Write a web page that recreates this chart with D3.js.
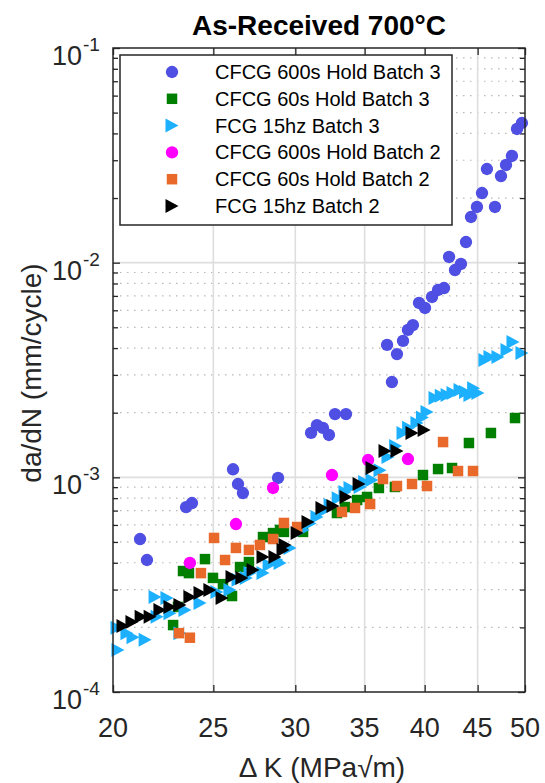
<!DOCTYPE html>
<html>
<head>
<meta charset="utf-8">
<script src="https://cdn.jsdelivr.net/npm/d3@7"></script>
<style>
  html, body { margin: 0; padding: 0; background: #fff; }
  svg { display: block; font-family: "Liberation Sans", Arial, sans-serif; }
</style>
</head>
<body>
<svg id="chart" width="545" height="783"></svg>
<script>
// ---------------- data ----------------
const title = "As-Received 700°C";
const xTickValues = [20, 25, 30, 35, 40, 45, 50];
const yDecades = [1e-4, 1e-3, 1e-2, 1e-1];
const yDecadeExponents = ["-4", "-3", "-2", "-1"];
const seriesNames = [
  "CFCG 600s Hold Batch 3",
  "CFCG 60s Hold Batch 3",
  "FCG 15hz Batch 3",
  "CFCG 600s Hold Batch 2",
  "CFCG 60s Hold Batch 2",
  "FCG 15hz Batch 2"
];

// CFCG 600s Hold Batch 3
const cfcg600b3K = [21.24, 21.57, 23.53, 23.84, 26.12, 26.41, 26.70, 28.87, 31.07, 31.48, 31.90, 32.33, 32.77, 33.58,
  37.19, 36.79, 37.61, 38.12, 38.54, 38.97, 39.50, 40.03, 40.66, 41.21, 41.76, 42.23, 42.79, 43.36, 43.85, 44.34,
  44.93, 45.44, 45.94, 46.77, 47.40, 47.93, 48.57, 49.12, 49.66];
const cfcg600b3R = [0.000516, 0.000412, 0.000727, 0.000759, 0.00109, 0.000931, 0.000845, 0.000993, 0.00161, 0.00175, 0.00170, 0.001575, 0.00197, 0.00197,
  0.00278, 0.00414, 0.00375, 0.00432, 0.00486, 0.00512, 0.00649, 0.00615, 0.00692, 0.00746, 0.00762, 0.01063, 0.00924, 0.00986, 0.01248, 0.01632,
  0.01817, 0.02111, 0.02731, 0.01817, 0.02533, 0.02851, 0.03141, 0.04196, 0.04473];

// CFCG 60s Hold Batch 3
const cfcg60b3K = [22.86, 23.11, 23.37, 23.68, 24.54, 24.98, 25.54, 26.06, 26.53, 27.06, 27.92, 28.55, 29.25, 29.00, 30.52,
  32.91, 33.50, 34.42, 35.19, 36.13, 37.44, 39.85, 41.21, 42.51, 44.14, 46.35, 48.90];
const cfcg60b3R = [0.000205, 0.000249, 0.000366, 0.000358, 0.000416, 0.00034, 0.000318, 0.00028, 0.000382, 0.000403, 0.000527, 0.00055, 0.000557, 0.000569, 0.000557,
  0.000682, 0.000727, 0.000784, 0.00081, 0.000892, 0.000902, 0.001025, 0.001093, 0.001105, 0.001445, 0.001609, 0.001889];

// FCG 15hz Batch 3
const fcg15b3K = [20.18, 20.22, 20.63, 20.91, 21.48, 21.96, 22.06, 22.55, 22.70, 23.21, 23.47, 24.27, 25.20, 25.94, 26.41,
  26.90, 27.12, 27.92, 28.30, 28.80, 29.45, 29.00, 29.65, 30.52, 31.00, 31.48, 32.00, 32.41, 33.00, 33.50, 33.88, 34.65,
  35.00, 35.58, 36.22, 36.87, 37.50, 38.12, 38.60, 39.32, 39.80, 40.21, 40.93, 41.50, 42.04, 42.60, 43.27, 43.80, 44.24,
  44.60, 45.03, 45.74, 46.25, 47.08, 48.04, 48.68, 49.66];
const fcg15b3R = [0.000199, 0.000157, 0.000188, 0.00018, 0.000175, 0.000277, 0.000224, 0.000274, 0.000233, 0.000188, 0.000241, 0.00026, 0.000292, 0.000299, 0.000333,
  0.00034, 0.000358, 0.000358, 0.00039, 0.000412, 0.000474, 0.000399, 0.000469, 0.000569, 0.00061, 0.000653, 0.0007, 0.000743, 0.0008, 0.000855, 0.000892, 0.000902,
  0.00095, 0.000972, 0.00108, 0.001244, 0.0014, 0.001609, 0.0017, 0.001789, 0.0019, 0.002015, 0.002342, 0.0024, 0.002418, 0.002471, 0.002551, 0.0025, 0.002418,
  0.0026, 0.002471, 0.00352, 0.003634, 0.003634, 0.003918, 0.004271, 0.003794];

// CFCG 600s Hold Batch 2
const cfcg600b2K = [23.73, 26.29, 28.55, 32.55, 35.27, 38.54];
const cfcg600b2R = [0.000399, 0.000606, 0.000892, 0.001025, 0.001204, 0.001217];

// CFCG 60s Hold Batch 2
const cfcg60b2K = [23.16, 23.73, 24.32, 25.04, 25.66, 26.29, 27.06, 27.73, 28.55, 29.25, 30.12, 33.28, 34.26, 35.43,
  36.46, 37.61, 38.89, 40.21, 41.67, 43.08, 44.54];
const cfcg60b2R = [0.000188, 0.000179, 0.000358, 0.000522, 0.000412, 0.000469, 0.000459, 0.000484, 0.000516, 0.000613, 0.000587, 0.00069, 0.00072, 0.000751,
  0.000982, 0.000911, 0.000931, 0.000911, 0.00146, 0.00107, 0.00107];

// FCG 15hz Batch 2
const fcg15b2K = [20.45, 20.86, 21.29, 21.72, 22.20, 22.70, 23.21, 23.73, 24.27, 24.81, 25.49, 26.06, 26.64, 27.31, 27.92,
  28.67, 29.19, 29.32, 30.12, 30.86, 31.83, 32.62, 33.58, 34.57, 35.58, 36.62, 37.61, 38.89, 39.95];
const fcg15b2R = [0.000203, 0.000212, 0.000224, 0.000224, 0.000241, 0.000249, 0.000254, 0.000277, 0.000289, 0.000299, 0.000274, 0.000343, 0.00034, 0.00037, 0.000425,
  0.000425, 0.000459, 0.000484, 0.00055, 0.000619, 0.00072, 0.000735, 0.00081, 0.000931, 0.001105, 0.001326, 0.001326, 0.001609, 0.001662];

// ---------------- layout ----------------
const L = 113, R = 525, T = 48, B = 692;
const svg = d3.select("#chart");
const x = d3.scaleLog().domain([20, 50]).range([L, R]);
const y = d3.scaleLog().domain([1e-4, 1e-1]).range([B, T]);

const gridColor = "#dedede";
const axisColor = "#262626";

// minor values
const yMinor = [];
for (let e = -4; e < -1; e++) for (let m = 2; m <= 9; m++) yMinor.push(m * Math.pow(10, e));

// grid
const grid = svg.append("g");
grid.selectAll(".ymin").data(yMinor).join("line")
  .attr("x1", L).attr("x2", R).attr("y1", d => y(d)).attr("y2", d => y(d))
  .attr("stroke", "#b8b8b8").attr("stroke-width", 1.2).attr("stroke-dasharray", "1.5,5.5");
grid.selectAll(".ymaj").data(yDecades.slice(1, 3)).join("line")
  .attr("x1", L).attr("x2", R).attr("y1", d => y(d)).attr("y2", d => y(d))
  .attr("stroke", gridColor).attr("stroke-width", 1.6);
grid.selectAll(".xmaj").data(xTickValues.slice(1, -1)).join("line")
  .attr("y1", T).attr("y2", B).attr("x1", d => x(d)).attr("x2", d => x(d))
  .attr("stroke", gridColor).attr("stroke-width", 1.6);

// axes (ticks inward)
function styleAxis(g) {
  g.select(".domain").remove();
  g.selectAll(".tick line").attr("stroke", axisColor).attr("stroke-width", 1.3);
}
svg.append("g").attr("transform", `translate(0,${B})`)
  .call(d3.axisBottom(x).tickValues(xTickValues).tickSize(-7).tickFormat(""))
  .call(styleAxis);
svg.append("g").attr("transform", `translate(0,${T})`)
  .call(d3.axisTop(x).tickValues(xTickValues).tickSize(-7).tickFormat(""))
  .call(styleAxis);
svg.append("g").attr("transform", `translate(${L},0)`)
  .call(d3.axisLeft(y).tickValues(yDecades).tickSize(-7).tickFormat(""))
  .call(styleAxis);
svg.append("g").attr("transform", `translate(${L},0)`)
  .call(d3.axisLeft(y).tickValues(yMinor).tickSize(-5).tickFormat(""))
  .call(styleAxis);
svg.append("g").attr("transform", `translate(${R},0)`)
  .call(d3.axisRight(y).tickValues(yDecades).tickSize(-7).tickFormat(""))
  .call(styleAxis);
svg.append("g").attr("transform", `translate(${R},0)`)
  .call(d3.axisRight(y).tickValues(yMinor).tickSize(-5).tickFormat(""))
  .call(styleAxis);

// tick labels
svg.append("g").selectAll("text").data(xTickValues).join("text")
  .attr("x", d => x(d)).attr("y", B + 45)
  .attr("text-anchor", "middle").attr("font-size", 27).attr("fill", "#262626")
  .text(d => d);

const yl = svg.append("g").selectAll("g").data(yDecades).join("g");
yl.append("text")
  .attr("x", 82).attr("y", d => y(d) + 17)
  .attr("text-anchor", "end").attr("font-size", 27).attr("fill", "#262626")
  .text("10");
yl.append("text")
  .attr("x", 83).attr("y", d => y(d) + 3)
  .attr("text-anchor", "start").attr("font-size", 19).attr("fill", "#262626")
  .text((d, i) => yDecadeExponents[i]);

// title and axis labels
svg.append("text").attr("x", (L + R) / 2).attr("y", 35)
  .attr("text-anchor", "middle").attr("font-size", 28).attr("font-weight", "bold").attr("fill", "#000")
  .text(title);
svg.append("text").attr("transform", `translate(41,${(T + B) / 2 + 3}) rotate(-90)`)
  .attr("text-anchor", "middle").attr("font-size", 28).attr("fill", "#262626")
  .text("da/dN (mm/cycle)");
svg.append("text").attr("x", (L + R) / 2 + 3).attr("y", 777)
  .attr("text-anchor", "middle").attr("font-size", 28).attr("fill", "#262626")
  .text("Δ K (MPa√m)");

// markers
const triRight = {
  draw(ctx, size) {
    const w = 13, h = 14;
    ctx.moveTo(-w / 2, -h / 2);
    ctx.lineTo(w / 2, 0);
    ctx.lineTo(-w / 2, h / 2);
    ctx.closePath();
  }
};
const sqr = {
  draw(ctx, size) {
    const s = 10.5;
    ctx.rect(-s / 2, -s / 2, s, s);
  }
};
const series = [
  { name: seriesNames[0], K: cfcg600b3K, R: cfcg600b3R, color: "#4f4fe3", shape: d3.symbolCircle, size: 120 },
  { name: seriesNames[1], K: cfcg60b3K, R: cfcg60b3R, color: "#007f00", shape: sqr, size: 0 },
  { name: seriesNames[2], K: fcg15b3K, R: fcg15b3R, color: "#1cb0ff", shape: triRight, size: 0 },
  { name: seriesNames[3], K: cfcg600b2K, R: cfcg600b2R, color: "#ff00ff", shape: d3.symbolCircle, size: 120 },
  { name: seriesNames[4], K: cfcg60b2K, R: cfcg60b2R, color: "#e8692a", shape: sqr, size: 0 },
  { name: seriesNames[5], K: fcg15b2K, R: fcg15b2R, color: "#000000", shape: triRight, size: 0 }
];

const marks = svg.append("g");
series.forEach(s => {
  const pts = s.K.map((k, i) => [k, s.R[i]]);
  marks.append("g").selectAll("path").data(pts).join("path")
    .attr("transform", d => `translate(${x(d[0])},${y(d[1])})`)
    .attr("d", d3.symbol().type(s.shape).size(s.size))
    .attr("fill", s.color);
});

// axis box
svg.append("rect").attr("x", L).attr("y", T).attr("width", R - L).attr("height", B - T)
  .attr("fill", "none").attr("stroke", axisColor).attr("stroke-width", 1.5);

// legend
const lg = svg.append("g");
lg.append("rect").attr("x", 120).attr("y", 55).attr("width", 332).attr("height", 170)
  .attr("fill", "#fff").attr("stroke", axisColor).attr("stroke-width", 1.5);
series.forEach((s, i) => {
  const cy = 72 + i * 26.8;
  lg.append("path").attr("transform", `translate(172,${cy})`)
    .attr("d", d3.symbol().type(s.shape).size(s.size)).attr("fill", s.color);
  lg.append("text").attr("x", 215).attr("y", cy + 7)
    .attr("font-size", 20).attr("fill", "#000").text(s.name);
});
</script>
</body>
</html>
